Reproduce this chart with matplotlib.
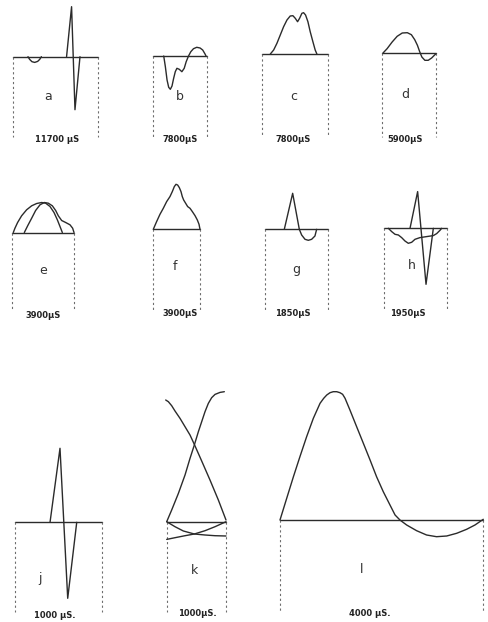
import matplotlib
matplotlib.use("Agg")
import matplotlib.pyplot as plt

# ---------------- data (time in % of sweep, amplitude in arbitrary units) ----------------
PANEL_LETTERS = ["a", "b", "c", "d", "e", "f", "g", "h", "j", "k", "l"]
DURATIONS = ["11700 μS", "7800μS", "7800μS", "5900μS", "3900μS", "3900μS",
             "1850μS", "1950μS", "1000 μS.", "1000μS.", "4000 μS."]

# a
A1_T = [18.2, 20.2, 22.9, 26.1, 29.6, 32.0, 34.0]
A1_V = [0, -2.7, -5, -5.7, -4.7, -2.7, 0]
A2_T = [63.6, 69.5, 73.5, 79.4]
A2_V = [0, 50, -53, 0]
# b
B1_T = [20.6, 23.6, 26.7, 29.7, 32.7, 35.8, 38.8, 41.8, 44.8, 49.1, 53.9, 58.2, 61.8,
        66.1, 70.3, 75.2, 81.2, 87.3, 92.1, 96.4, 98.2]
B1_V = [0, -10.7, -24, -31.3, -33.3, -30, -22.3, -15.7, -12.3, -13.3, -15.7, -12.3, -5.7,
        0, 4.3, 7.3, 8.7, 8, 6, 2, 0]
# c
C1_T = [12.7, 17.8, 22.8, 27.9, 33.0, 38.1, 43.1, 47.2, 50.8, 54.3, 57.4, 60.9, 63.5,
        66.5, 70.1, 73.6, 77.7, 81.2, 83.8]
C1_V = [0, 4, 10.7, 19, 27.3, 34, 38, 38.3, 35.7, 32.3, 35.7, 40.7, 41.3, 39, 32.3,
        22.3, 12.3, 4, 0]
# d
D1_T = [1.9, 9.4, 18.8, 28.1, 37.5, 46.9, 54.4, 60.6, 65.6, 70.0, 73.8, 79.4, 85.6,
        91.9, 96.9, 100]
D1_V = [0, 4.3, 11, 16.7, 20, 20.3, 18.3, 13.3, 7.7, 1, -4, -7.3, -7.3, -5, -2.3, -0.7]
# e
E1_T = [1.6, 4.3, 8.6, 15.1, 23.2, 31.4, 39.5, 47.6, 54.1, 61.1, 67.6, 73.0, 77.3, 81.1]
E1_V = [0, 4.3, 10, 16.7, 22.7, 26.7, 29, 30, 29.3, 26, 20, 12.7, 6, 0]
E2_T = [19.5, 24.9, 31.4, 37.8, 44.9, 51.9, 58.4, 64.9, 70.3, 74.6, 80.0, 86.5, 93.5,
        97.8, 100]
E2_V = [0, 6.7, 14.3, 22, 27.7, 30, 29.3, 26.7, 22, 16.7, 12, 10, 7.7, 4.3, 0]
# f
F1_T = [0, 7.1, 14.3, 21.4, 28.6, 35.7, 40.7, 45.0, 48.6, 52.1, 55.7, 59.3, 62.1, 65.0,
        69.3, 73.6, 78.6, 83.6, 89.3, 94.3, 97.9, 100]
F1_V = [0, 7.7, 15, 21, 27.7, 32.7, 37.7, 42.7, 45, 44.3, 41.7, 37.7, 32.7, 29.3, 26,
        22.7, 21, 17.7, 13.7, 9.3, 5, 0]
# g
G1_T = [30.5, 43.7, 54.2]
G1_V = [0, 36, 0]
G2_T = [54.2, 57.9, 63.2, 68.4, 73.7, 78.9, 81.6]
G2_V = [0, -5.7, -10, -11, -10, -6.7, 0]
# h
H1_T = [41.3, 53.4, 66.7, 78.3]
H1_V = [0, 36.7, -56, 0]
H2_T = [6.9, 12.2, 17.5, 22.8, 28.0, 33.3, 38.6, 43.9, 49.2, 57.1, 67.7, 78.3, 83.6,
        88.9, 91.5]
H2_V = [0, -3.3, -6, -6.7, -9.3, -12.7, -15, -14, -11, -9.3, -8.3, -7.3, -5.3, -2, 0]
# j
J1_T = [40.4, 51.9, 60.8, 71.2]
J1_V = [0, 74, -76, 0]
# k
K1_T = [-1.7, 2.8, 8.4, 14.0, 22.5, 30.9, 39.3, 46.6, 59.0, 73.0, 87.1, 100]
K1_V = [121.7, 120, 116, 110.7, 103.3, 95, 86.7, 77.3, 60.7, 41.7, 21.7, 1.7]
K2_T = [0, 8.4, 19.7, 30.9, 39.3, 46.6, 53.4, 59.0, 64.6, 70.2, 75.8, 81.5, 89.9, 97.2]
K2_V = [0, 11.7, 28.3, 46.7, 63.3, 76.7, 90, 100, 110, 118.3, 124, 127.3, 129.3, 130]
K3_T = [0, 14.0, 28.1, 46.6, 64.6, 81.5, 100]
K3_V = [0, -5, -9.3, -12.3, -13.3, -14, -14.3]
K4_T = [0, 14.0, 30.9, 46.6, 64.6, 81.5, 100]
K4_V = [-17.7, -16, -14, -12.3, -9, -5, 0]
# l
L1_T = [0, 3.3, 6.6, 9.8, 13.1, 16.4, 19.7, 21.5, 23.0, 24.6, 26.2, 27.9, 29.5, 30.8,
        32.0, 34.4, 37.7, 41.0, 44.3, 47.5, 50.8, 54.1, 56.6, 59.0, 62.3, 67.2, 72.1,
        77.0, 82.0, 86.9, 91.8, 95.9, 100]
L1_V = [0, 21.7, 43.3, 63.3, 83.3, 101.7, 116.7, 121.7, 125, 127.3, 128.3, 128.3,
        127.3, 125.7, 121.7, 110, 93.3, 76.7, 60, 43.3, 28.3, 15, 5, 0, -5, -10.7, -15,
        -16.7, -16, -13.3, -9.3, -5, 0.7]

TRACES = [
    [(A1_T, A1_V), (A2_T, A2_V)],
    [(B1_T, B1_V)],
    [(C1_T, C1_V)],
    [(D1_T, D1_V)],
    [(E1_T, E1_V), (E2_T, E2_V)],
    [(F1_T, F1_V)],
    [(G1_T, G1_V), (G2_T, G2_V)],
    [(H1_T, H1_V), (H2_T, H2_V)],
    [(J1_T, J1_V)],
    [(K1_T, K1_V), (K2_T, K2_V), (K3_T, K3_V), (K4_T, K4_V)],
    [(L1_T, L1_V)],
]

# ---------------- layout (pixels) ----------------
W, H = 488, 622
# left, right, baseline, dashed-line bottom
FRAMES = [
    (12.5, 97.5, 56.7, 137), (152.5, 207, 56, 137), (262, 327.5, 54, 137), (382, 436, 53, 137),
    (12.3, 74, 232.5, 311), (153.3, 200, 229.3, 311), (265, 328.3, 229.3, 311), (384, 447, 228.3, 311),
    (15, 101.7, 522.3, 612), (166.7, 226, 521.7, 612), (280, 483.3, 520, 612),
]
LETTER_POS = [(48.3, 96.7), (180, 96.7), (293.3, 96.7), (405.7, 94.3),
              (42.7, 270), (175, 266.7), (296.7, 270), (412.3, 265),
              (40, 578.3), (195, 570.7), (361.7, 569.3)]
LABEL_POS = [(57, 139), (180, 139), (293, 139), (405, 139),
             (43, 315), (180, 314), (293, 314), (408, 313),
             (55, 615), (197, 614), (370, 613)]

INK = "#2b2b2b"
DASH = "#6e6e6e"

fig = plt.figure(figsize=(W / 100, H / 100), dpi=100)
fig.patch.set_facecolor("white")

for i, (left, right, base, dbot) in enumerate(FRAMES):
    top = base - 160
    ax = fig.add_axes([left / W, 1 - dbot / H, (right - left) / W, (dbot - top) / H])
    ax.set_xlim(0, 100)
    ax.set_ylim(base - dbot, base - top)
    ax.axis("off")
    # baseline
    ax.plot([0, 100], [0, 0], color=INK, lw=1.0, solid_capstyle="round", clip_on=False)
    # dashed verticals
    for xx in (0, 100):
        ax.plot([xx, xx], [0, base - dbot], color=DASH, lw=0.8,
                linestyle=(0, (2.0, 2.4)), clip_on=False)
    for t, v in TRACES[i]:
        ax.plot(t, v, color=INK, lw=1.0, solid_joinstyle="round",
                solid_capstyle="round", clip_on=False)
    lx, ly = LETTER_POS[i]
    fig.text(lx / W, 1 - ly / H, PANEL_LETTERS[i], ha="center", va="center",
             fontsize=9, color="#333333", family="DejaVu Sans")
    tx, ty = LABEL_POS[i]
    fig.text(tx / W, 1 - ty / H, DURATIONS[i], ha="center", va="center",
             fontsize=6, fontweight="bold", color="#222222", family="DejaVu Sans")

fig.savefig("out.png", dpi=100, facecolor="white")
